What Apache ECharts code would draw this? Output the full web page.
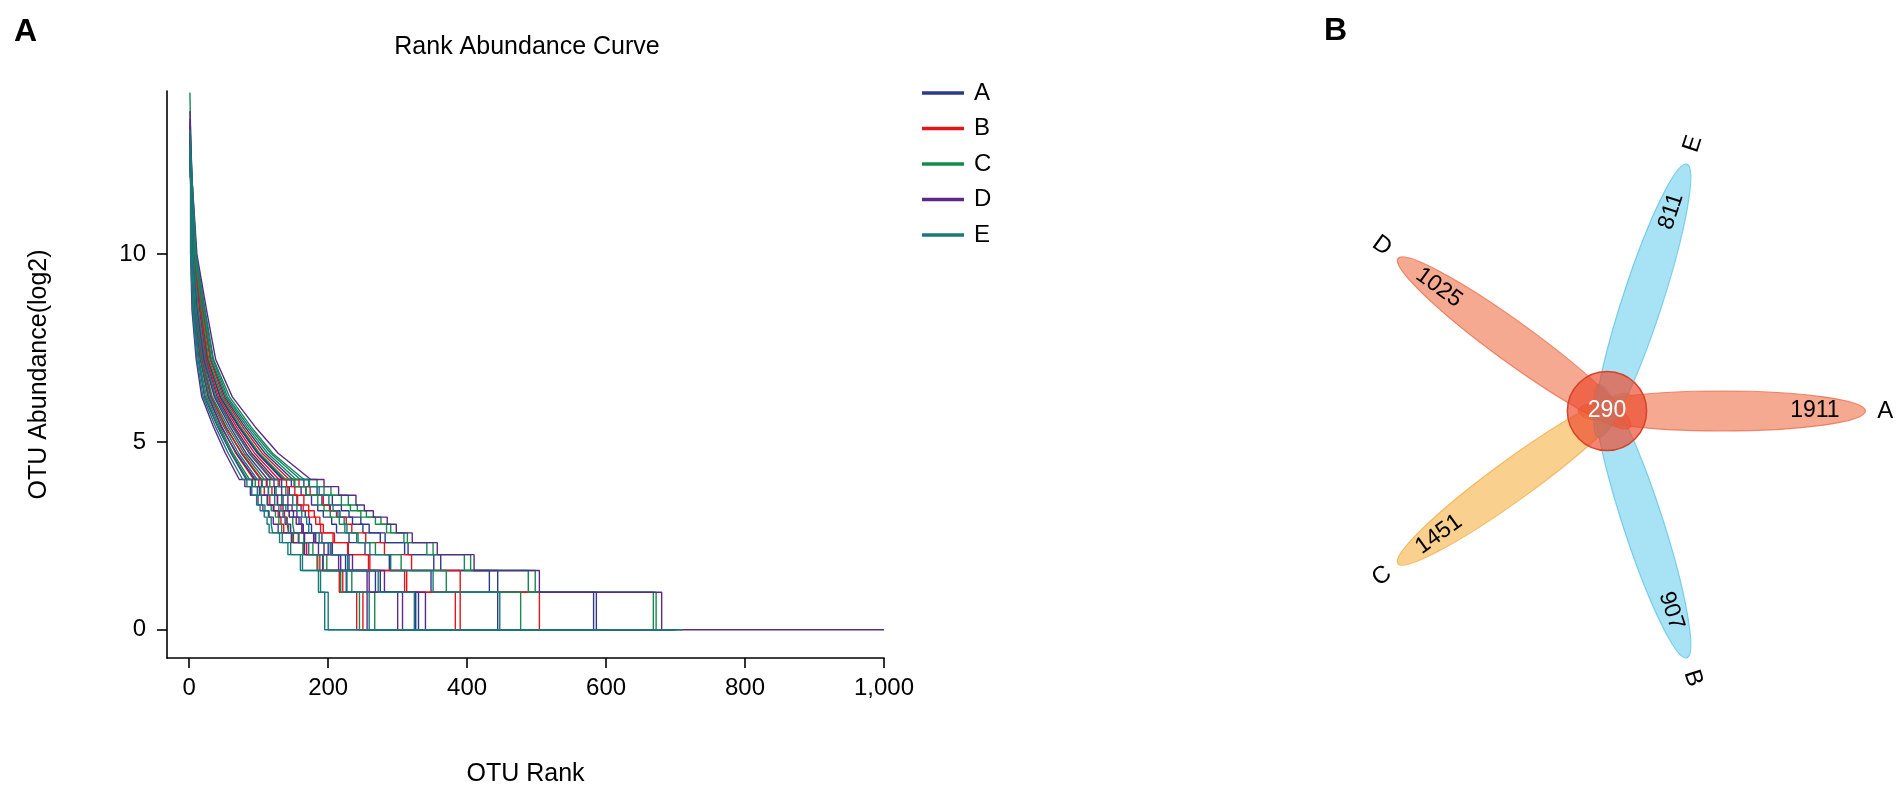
<!DOCTYPE html>
<html>
<head>
<meta charset="utf-8">
<title>Rank abundance and flower diagram</title>
<script src="https://cdn.jsdelivr.net/npm/echarts@6/dist/echarts.min.js"></script>
<style>
  html, body { margin: 0; padding: 0; background: #fff; }
  #chart { width: 1904px; height: 792px; }
</style>
</head>
<body>
<div id="chart"></div>
<script>
// ---- panel A: rank abundance curves ----
var groups = ['A', 'B', 'C', 'D', 'E'];
var groupColors = ['#2d3a8c', '#e5141b', '#168a4c', '#5c2987', '#17797a'];

// log2 abundance levels used for each curve (smooth part, then stair part)
var upperLevels = [12, 10, 8.5, 7.2, 6.2, 5.4, 4.7, 4.0];
var stepLevels = [3.81, 3.58, 3.32, 3.17, 3.0, 2.81, 2.58, 2.32, 2.0, 1.58, 1.0, 0];

var sampleGroup = ['A','A','A','A','A', 'B','B','B','B','B', 'C','C','C','C','C',
                   'D','D','D','D','D', 'E','E','E','E','E'];
var samplePeak = [12.1, 12.8, 12.4, 13.0, 12.7,
                  12.6, 12.3, 12.6, 13.1, 12.9,
                  13.0, 12.5, 14.3, 13.5, 12.9,
                  13.6, 12.7, 13.2, 13.4, 13.8,
                  12.4, 12.8, 12.9, 12.2, 13.3];
// rank where each curve reaches the upper levels
var upperRank = [
  [3,5,10,18,31,53,75,103], [3,7,15,24,40,65,90,124], [3,7,17,27,44,71,98,134],
  [3,7,16,26,45,72,99,136], [3,9,20,31,51,80,109,149],
  [2,4,8,16,27,47,67,93], [3,5,11,19,32,52,76,104], [3,7,16,25,42,68,94,129],
  [3,6,13,22,37,63,87,120], [3,8,19,30,49,77,105,144],
  [2,3,7,14,25,44,63,87], [3,5,11,20,33,56,79,108], [3,8,18,28,47,74,101,139],
  [4,9,21,32,53,83,113,154], [4,10,23,35,58,89,120,165],
  [2,2,4,10,18,35,52,72], [2,3,6,13,22,41,60,82], [3,6,12,21,36,59,82,113],
  [2,4,8,16,28,46,68,95], [4,11,25,38,62,95,128,175],
  [2,2,5,11,20,38,56,77], [2,3,7,13,23,42,61,84], [2,4,9,17,29,50,71,98],
  [3,6,13,23,38,62,86,118], [4,10,22,34,55,86,117,160]
];
// rank where each curve steps down to the stair levels
var stepRank = [
  [112,123,135,142,150,158,164,181,200,225,268,326],
  [133,144,155,161,167,173,176,191,206,230,275,330],
  [147,161,176,185,193,205,212,230,253,288,348,444],
  [151,168,191,203,217,235,250,275,310,352,432,582],
  [165,184,206,219,230,247,259,282,315,362,444,586],
  [100,108,116,122,128,132,136,150,164,184,216,241],
  [111,119,127,132,137,141,143,157,169,188,221,250],
  [140,152,165,172,180,188,193,209,229,258,310,383],
  [130,142,156,164,172,182,189,207,228,260,313,390],
  [158,174,193,202,212,226,234,254,281,320,390,504],
  [95,103,112,118,124,129,133,149,164,185,218,245],
  [116,125,133,139,144,149,151,165,178,198,234,267],
  [152,168,185,194,203,216,224,243,268,305,370,477],
  [173,194,219,232,247,268,284,309,342,396,488,668],
  [184,204,229,242,255,276,290,314,351,405,498,672],
  [80,88,99,106,114,121,128,147,166,192,226,256],
  [91,101,113,121,130,138,146,166,186,215,256,300],
  [122,133,142,148,155,161,164,179,194,218,259,307],
  [104,114,127,135,144,154,162,182,204,235,281,340],
  [194,215,240,252,265,285,298,321,357,410,504,680],
  [83,90,97,102,108,112,115,130,142,160,186,195],
  [90,98,104,109,115,118,120,134,146,163,189,200],
  [105,114,123,129,135,140,143,158,172,193,227,259],
  [128,139,149,155,162,169,172,187,203,228,272,324],
  [172,187,201,207,214,223,227,241,260,290,351,447]
];
var sampleEnd = [540, 620, 690, 700, 650, 480, 430, 700, 650, 600,
                 520, 460, 640, 700, 690, 560, 640, 500, 660, 1000,
                 710, 420, 600, 590, 680];

var xTicks = [0, 200, 400, 600, 800, 1000];
var yTicks = [0, 5, 10];

// ---- panel B: flower diagram ----
var vennSets = ['A', 'B', 'C', 'D', 'E'];
var vennCounts = [1911, 907, 1451, 1025, 811];
var vennAngles = [0, 288, 216, 144, 72];
var vennCore = 290;
var petalFill = ['rgba(240,112,72,0.6)', 'rgba(96,204,236,0.55)', 'rgba(246,176,66,0.6)',
                 'rgba(240,112,72,0.6)', 'rgba(96,204,236,0.55)'];
var petalStroke = ['rgba(232,96,60,0.7)', 'rgba(80,190,225,0.7)', 'rgba(240,165,60,0.7)',
                   'rgba(232,96,60,0.7)', 'rgba(80,190,225,0.7)'];

var FONT = '"Liberation Sans", Arial, sans-serif';
var petalDist = 116, petalLen = 145, petalWid = 20, coreR = 40, numR = 210, nameR = 281;

function buildPath(i) {
  var pts = [[1, samplePeak[i]]];
  upperLevels.forEach(function (v, k) { pts.push([upperRank[i][k], v]); });
  var prev = upperLevels[upperLevels.length - 1];
  stepLevels.forEach(function (v, k) {
    pts.push([stepRank[i][k], prev]);
    pts.push([stepRank[i][k], v]);
    prev = v;
  });
  pts.push([sampleEnd[i], 0]);
  return pts;
}

function readableRot(deg) {
  var r = deg;
  if (r > 90 && r <= 270) r -= 180;
  else if (r > 270) r -= 360;
  return r * Math.PI / 180;
}

var series = sampleGroup.map(function (g, i) {
  var col = groupColors[groups.indexOf(g)];
  return {
    type: 'line', name: g, xAxisIndex: 0, yAxisIndex: 0,
    data: buildPath(i), showSymbol: false, symbol: 'none', silent: true,
    lineStyle: { width: 1.4, color: col }, itemStyle: { color: col }
  };
});

var petalData = vennSets.map(function (s, i) { return [vennAngles[i], vennCounts[i], i]; });

series.push({
  type: 'custom', name: 'petals', xAxisIndex: 1, yAxisIndex: 1, silent: true,
  data: petalData,
  renderItem: function (params, api) {
    var deg = api.value(0), idx = api.value(2);
    var a = deg * Math.PI / 180;
    var c = api.coord([petalDist * Math.cos(a), petalDist * Math.sin(a)]);
    var sz = api.size([petalLen, petalWid]);
    return {
      type: 'ellipse', x: c[0], y: c[1], rotation: a,
      shape: { cx: 0, cy: 0, rx: sz[0], ry: sz[1] },
      style: { fill: petalFill[idx], stroke: petalStroke[idx], lineWidth: 1.2 }
    };
  }
});

series.push({
  type: 'custom', name: 'core', xAxisIndex: 1, yAxisIndex: 1, silent: true,
  data: [[0, 0, vennCore]],
  renderItem: function (params, api) {
    var c = api.coord([api.value(0), api.value(1)]);
    var r = api.size([coreR, coreR])[0];
    return {
      type: 'group', children: [
        { type: 'circle', shape: { cx: c[0], cy: c[1], r: r },
          style: { fill: 'rgba(236,74,46,0.68)', stroke: '#d9402a', lineWidth: 1.5 } },
        { type: 'text', x: c[0], y: c[1],
          style: { text: String(api.value(2)), fill: '#fff', fontSize: 23, fontFamily: FONT,
                   align: 'center', verticalAlign: 'middle' } }
      ]
    };
  }
});

series.push({
  type: 'custom', name: 'petalText', xAxisIndex: 1, yAxisIndex: 1, silent: true,
  data: petalData,
  renderItem: function (params, api) {
    var deg = api.value(0), idx = api.value(2);
    var a = deg * Math.PI / 180;
    var rot = readableRot(deg);
    var pn = api.coord([numR * Math.cos(a), numR * Math.sin(a)]);
    var pl = api.coord([nameR * Math.cos(a), nameR * Math.sin(a)]);
    return {
      type: 'group', children: [
        { type: 'text', x: pn[0], y: pn[1], rotation: rot,
          style: { text: String(api.value(1)), fill: '#000', fontSize: 23, fontFamily: FONT,
                   align: 'center', verticalAlign: 'middle' } },
        { type: 'text', x: pl[0], y: pl[1], rotation: rot,
          style: { text: vennSets[idx], fill: '#000', fontSize: 24, fontFamily: FONT,
                   align: 'center', verticalAlign: 'middle' } }
      ]
    };
  }
});

var chart = echarts.init(document.getElementById('chart'));
chart.setOption({
  animation: false,
  backgroundColor: '#fff',
  textStyle: { fontFamily: FONT },
  title: [
    { text: 'A', left: 9, top: 11, textStyle: { fontSize: 32, fontWeight: 'bold', color: '#000', fontFamily: FONT } },
    { text: 'B', left: 1319, top: 10, textStyle: { fontSize: 32, fontWeight: 'bold', color: '#000', fontFamily: FONT } },
    { text: 'Rank Abundance Curve', left: 522, top: 30, textAlign: 'center',
      textStyle: { fontSize: 25, fontWeight: 'normal', color: '#000', fontFamily: FONT } }
  ],
  legend: {
    data: groups, orient: 'vertical', left: 917, top: 76,
    icon: 'rect', itemWidth: 42, itemHeight: 3.5, itemGap: 11.5,
    textStyle: { fontSize: 24, color: '#000', fontFamily: FONT, padding: [0, 0, 0, 5] }
  },
  grid: [
    { left: 167, top: 91, width: 717, height: 580 },
    { left: 1310, top: 111, width: 600, height: 600 }
  ],
  xAxis: [
    {
      type: 'value', gridIndex: 0, min: -32, max: 1000,
      name: 'OTU Rank', nameLocation: 'middle', nameGap: 104,
      nameTextStyle: { fontSize: 25, color: '#000', fontFamily: FONT },
      axisLine: { onZero: false, lineStyle: { color: '#000', width: 1.6 } },
      axisTick: { length: 10, customValues: xTicks, lineStyle: { color: '#000', width: 1.6 } },
      axisLabel: { customValues: xTicks, fontSize: 24, color: '#000', margin: 18,
                   formatter: function (v) { return v.toLocaleString('en-US'); } },
      splitLine: { show: false }
    },
    { type: 'value', gridIndex: 1, min: -300, max: 300, show: false }
  ],
  yAxis: [
    {
      type: 'value', gridIndex: 0, min: -0.75, max: 14.34,
      name: 'OTU Abundance(log2)', nameLocation: 'middle', nameGap: 115, nameRotate: 90,
      nameTextStyle: { fontSize: 25, color: '#000', fontFamily: FONT },
      axisLine: { onZero: false, lineStyle: { color: '#000', width: 1.6 } },
      axisTick: { length: 10, customValues: yTicks, lineStyle: { color: '#000', width: 1.6 } },
      axisLabel: { customValues: yTicks, fontSize: 24, color: '#000', margin: 21 },
      splitLine: { show: false }
    },
    { type: 'value', gridIndex: 1, min: -300, max: 300, show: false }
  ],
  series: series
});
</script>
</body>
</html>
